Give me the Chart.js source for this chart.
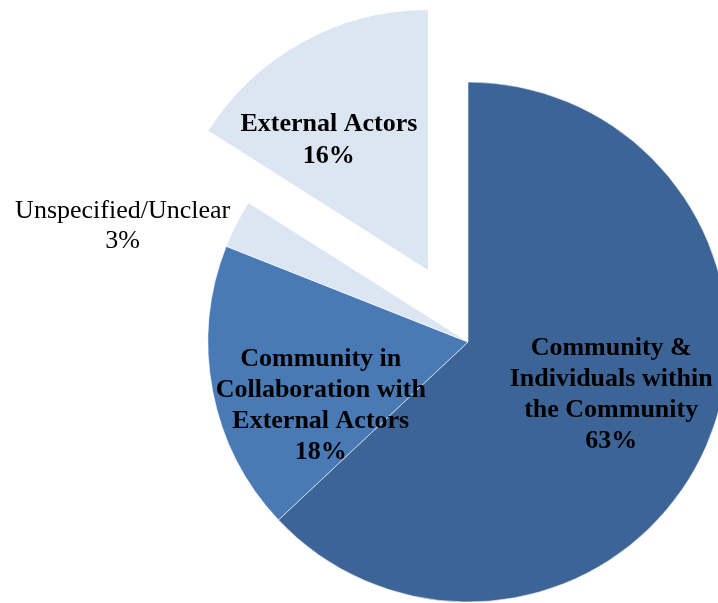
<!DOCTYPE html>
<html>
<head>
<meta charset="utf-8">
<title>Who initiated the actions</title>
<script src="https://cdn.jsdelivr.net/npm/chart.js@4.4.1/dist/chart.umd.min.js"></script>
<style>
  html, body { margin: 0; padding: 0; background: #fff; }
  #wrap { position: relative; width: 718px; height: 603px; overflow: hidden; }
  #wrap canvas { position: absolute; left: 0; top: 0; }
</style>
</head>
<body>
<div id="wrap">
  <canvas id="pie" width="718" height="603"></canvas>
  <canvas id="pulled" width="718" height="603"></canvas>
</div>
<script>
// slice names, already broken into the lines they are printed on
const categories = [
  ["Community &", "Individuals within", "the Community"],
  ["Community in", "Collaboration with", "External Actors"],
  ["Unspecified/Unclear"],
  ["External Actors"]
];
const shares = [63, 18, 3, 16];
const sliceColors = ["#3c6496", "#4a7ab5", "#dce6f2", "#dce6f2"];
const pulledSlice = 3;

// where each label sits: fraction of the radius along the slice middle, then a nudge
const labelPlace = [
  { r: 0.6, dx: 0, dy: -9, bold: true, lh: 31 },
  { r: 0.6, dx: 6, dy: 35, bold: true, lh: 31 },
  { r: 1.4, dx: -21, dy: 49, bold: false, lh: 30 },
  { r: 0.6, dx: -24, dy: 7, bold: true, lh: 32 }
];

const sliceLabels = {
  id: "sliceLabels",
  afterDatasetsDraw(chart, args, opts) {
    const ctx = chart.ctx;
    const arcs = chart.getDatasetMeta(0).data;
    opts.show.forEach((i) => {
      const arc = arcs[i];
      const p = labelPlace[i];
      const mid = (arc.startAngle + arc.endAngle) / 2;
      const r = arc.outerRadius * p.r;
      const x = arc.x + Math.cos(mid) * r + p.dx;
      const y = arc.y + Math.sin(mid) * r + p.dy;
      const lines = categories[i].concat(shares[i] + "%");
      ctx.save();
      ctx.font = (p.bold ? "bold " : "") + "26px 'Liberation Serif', 'Times New Roman', serif";
      ctx.fillStyle = "#000";
      ctx.textAlign = "center";
      ctx.textBaseline = "middle";
      const top = y - (lines.length - 1) * p.lh / 2;
      lines.forEach((t, k) => ctx.fillText(t, x, top + k * p.lh));
      ctx.restore();
    });
  }
};

function pieConfig(visible, padding, borders) {
  return {
    type: "pie",
    data: {
      labels: categories.map((c) => c.join(" ")),
      datasets: [{
        data: shares,
        backgroundColor: sliceColors.map((c, i) => visible.includes(i) ? c : "rgba(0,0,0,0)"),
        borderColor: "rgba(255,255,255,0.55)",
        borderWidth: sliceColors.map((c, i) => visible.includes(i) ? borders : 0),
        clip: false
      }]
    },
    options: {
      responsive: false,
      animation: false,
      radius: 260,
      layout: { padding: padding },
      events: [],
      plugins: {
        legend: { display: false },
        tooltip: { enabled: false },
        sliceLabels: { show: visible }
      }
    },
    plugins: [sliceLabels]
  };
}

// main pie without the pulled-out slice
new Chart(document.getElementById("pie"),
  pieConfig([0, 1, 2], { left: 218, right: 0, top: 81, bottom: 0 }, 1));

// the pulled-out slice, drawn on its own centre up and to the left
new Chart(document.getElementById("pulled"),
  pieConfig([pulledSlice], { left: 138, right: 0, top: 0, bottom: 63 }, 0));
</script>
</body>
</html>
